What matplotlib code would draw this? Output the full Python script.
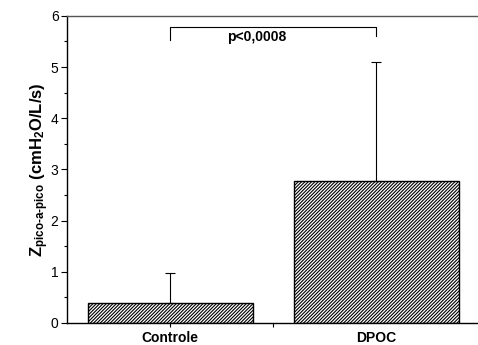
import matplotlib
matplotlib.use('Agg')
import matplotlib.pyplot as plt
from matplotlib.ticker import MultipleLocator

plt.rcParams['font.family'] = ['Liberation Sans', 'DejaVu Sans']
plt.rcParams['mathtext.fontset'] = 'custom'
plt.rcParams['mathtext.rm'] = 'Liberation Sans:bold'
plt.rcParams['mathtext.it'] = 'Liberation Sans:bold'
plt.rcParams['mathtext.bf'] = 'Liberation Sans:bold'
plt.rcParams['hatch.linewidth'] = 0.8
plt.rcParams['axes.spines.right'] = False

categories = ['Controle', 'DPOC']
means = [0.38, 2.78]
errors = [0.60, 2.32]
p_text = 'p<0,0008'

fig = plt.figure(figsize=(4.78, 3.45), dpi=100)
# axes run a little past the right edge of the figure, as in the original
ax = fig.add_axes([0.140, 0.064, 0.885, 0.890])
ax.patch.set_visible(False)

xpos = [0.5, 1.5]
ax.bar(xpos, means, width=0.8, color='white', edgecolor='black',
       hatch='//////////', linewidth=1.0, zorder=2)
ax.errorbar(xpos, means, yerr=[[0, 0], errors], fmt='none', ecolor='black',
            elinewidth=0.8, capsize=3.5, capthick=0.8, zorder=3)

# bracket with p value
ax.plot([xpos[0], xpos[0], xpos[1], xpos[1]], [5.52, 5.78, 5.78, 5.6],
        color='black', linewidth=0.8)
ax.text(0.92, 5.58, p_text, ha='center', va='center', fontsize=10,
        fontweight='bold')

ax.set_xlim(0, 2.05)
ax.set_ylim(0, 6)
ax.yaxis.set_major_locator(MultipleLocator(1))
ax.yaxis.set_minor_locator(MultipleLocator(0.5))
ax.set_xticks([0.5, 1.0])
ax.set_xticklabels([categories[0], ''], fontweight='bold', fontsize=10)
ax.set_xticks([1.5], minor=True)
ax.set_xticklabels([categories[1]], minor=True, fontweight='bold', fontsize=10)
ax.tick_params(axis='x', which='minor', length=0, pad=5.5)
ax.tick_params(axis='x', which='major', length=3, width=0.8, pad=3)
ax.tick_params(axis='y', which='major', length=4, width=0.8, labelsize=10, pad=2)
ax.tick_params(axis='y', which='minor', length=2, width=0.8)

ax.spines['right'].set_visible(False)
ax.spines['top'].set_color('#555555')
ax.spines['top'].set_linewidth(1.0)
for s in ['left', 'bottom']:
    ax.spines[s].set_linewidth(1.0)

ax.set_ylabel(r'$\mathrm{Z_{pico\text{-}a\text{-}pico}\ (cmH_2O/L/s)}$',
              fontsize=12, labelpad=0)

fig.savefig('out.png', dpi=100, facecolor='white')
